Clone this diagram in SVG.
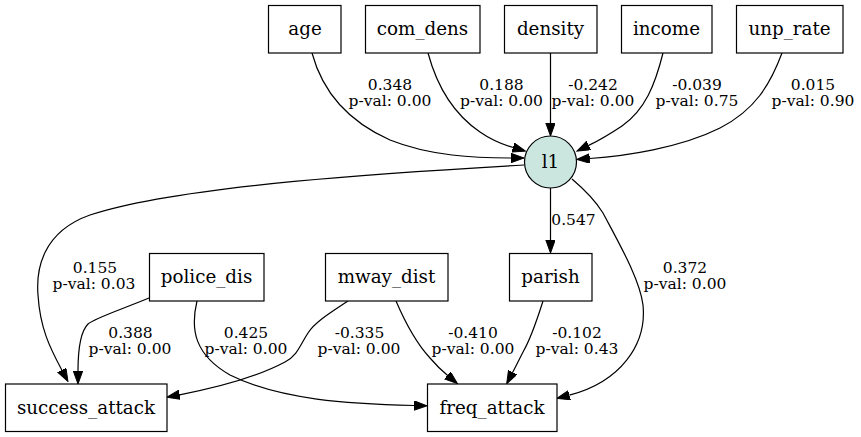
<svg xmlns="http://www.w3.org/2000/svg" width="861" height="437" viewBox="0 0 861 437">
<defs>
<style>
.n rect{fill:#fff;stroke:#000;stroke-width:1.2}
.n text{font-family:"DejaVu Serif","Liberation Serif",serif;font-size:18.3px;text-anchor:middle;fill:#000}
.e path{fill:none;stroke:#000;stroke-width:1.2;marker-end:url(#ah)}
.l text{font-family:"DejaVu Serif","Liberation Serif",serif;font-size:15.5px;text-anchor:middle;fill:#000}
</style>
<marker id="ah" markerUnits="userSpaceOnUse" markerWidth="14" markerHeight="10" refX="0" refY="4.7" orient="auto">
<path d="M0,0 L13,4.7 L0,9.4 z" fill="#000" stroke="#000" stroke-width="1"/>
</marker>
</defs>
<rect width="861" height="437" fill="#fff"/>
<g id="edges" class="e">
<path d="M312,53 C322,90 345,120 390,140 C430,156 475,158 511,158"/>
<path d="M428,53 C438,90 455,115 480,132 C490,139 501,144 513,147.5"/>
<path d="M550.5,53 L550.5,123"/>
<path d="M663,53 C655,85 645,110 622,126 C610,134 600,140 588.7,145.4"/>
<path d="M782,53 C770,85 755,110 720,128 C680,148 625,156 589.7,158.5"/>
<path d="M524,165 C400,172 180,185 90,215 C42,232 36,270 38,295 C40,328 50,348 61.8,370"/>
<path d="M550.5,188 L550.5,240"/>
<path d="M572,179 C585,190 595,200 603,213 C620,245 640,280 643,305 C647,345 620,382 569.4,395.2"/>
<path d="M149,298 C120,310 95,318 88,324 C80,332 78,350 78,371"/>
<path d="M197,301 C190,330 195,355 230,375 C280,400 350,404 414,405.5"/>
<path d="M348,301 C330,313 315,322 308,333 C300,345 298,355 285,362 C255,378 215,388 179.6,394.8"/>
<path d="M396,301 C405,322 418,345 430,358 C436,365 441,370 447.4,375.3"/>
<path d="M543,301 C537,320 530,340 523,352 C519,360 516,366 512.7,372.3"/>
</g>
<g id="labels" class="l">
<text x="390" y="90">0.348</text><text x="390" y="106">p-val: 0.00</text>
<text x="501.5" y="90">0.188</text><text x="501.5" y="106">p-val: 0.00</text>
<text x="593" y="90">-0.242</text><text x="593" y="106">p-val: 0.00</text>
<text x="697" y="90">-0.039</text><text x="697" y="106">p-val: 0.75</text>
<text x="813" y="90">0.015</text><text x="813" y="106">p-val: 0.90</text>
<text x="95" y="273">0.155</text><text x="94" y="289">p-val: 0.03</text>
<text x="573.5" y="225">0.547</text>
<text x="685" y="273">0.372</text><text x="685" y="289">p-val: 0.00</text>
<text x="130.5" y="338">0.388</text><text x="130" y="354">p-val: 0.00</text>
<text x="246" y="338">0.425</text><text x="246" y="354">p-val: 0.00</text>
<text x="359.5" y="338">-0.335</text><text x="359" y="354">p-val: 0.00</text>
<text x="473" y="338">-0.410</text><text x="473" y="354">p-val: 0.00</text>
<text x="577" y="338">-0.102</text><text x="577" y="354">p-val: 0.43</text>
</g>
<g id="age" class="n"><rect x="268.5" y="5.5" width="72.5" height="47.5"/><text x="305" y="35">age</text></g>
<g id="com_dens" class="n"><rect x="365.5" y="5.5" width="114.5" height="47.5"/><text x="422.5" y="35">com_dens</text></g>
<g id="density" class="n"><rect x="504.5" y="5.5" width="92.5" height="47.5"/><text x="550.5" y="35">density</text></g>
<g id="income" class="n"><rect x="621.5" y="5.5" width="90.5" height="47.5"/><text x="666.5" y="35">income</text></g>
<g id="unp_rate" class="n"><rect x="736.5" y="5.5" width="106.5" height="47.5"/><text x="789.5" y="35">unp_rate</text></g>
<g id="l1" class="n"><circle cx="550.5" cy="162" r="26" fill="#cae6de" stroke="#000" stroke-width="1.2"/><text x="550.5" y="168">l1</text></g>
<g id="police_dis" class="n"><rect x="149.5" y="253.5" width="114.5" height="47.5"/><text x="206.5" y="283">police_dis</text></g>
<g id="mway_dist" class="n"><rect x="325.5" y="253.5" width="122.5" height="47.5"/><text x="386.5" y="283">mway_dist</text></g>
<g id="parish" class="n"><rect x="509.5" y="253.5" width="82.5" height="47.5"/><text x="550.5" y="283">parish</text></g>
<g id="success_attack" class="n"><rect x="5.5" y="384" width="161.5" height="47.5"/><text x="86" y="413.5">success_attack</text></g>
<g id="freq_attack" class="n"><rect x="427.5" y="384" width="129.5" height="47.5"/><text x="492" y="413.5">freq_attack</text></g>
</svg>
